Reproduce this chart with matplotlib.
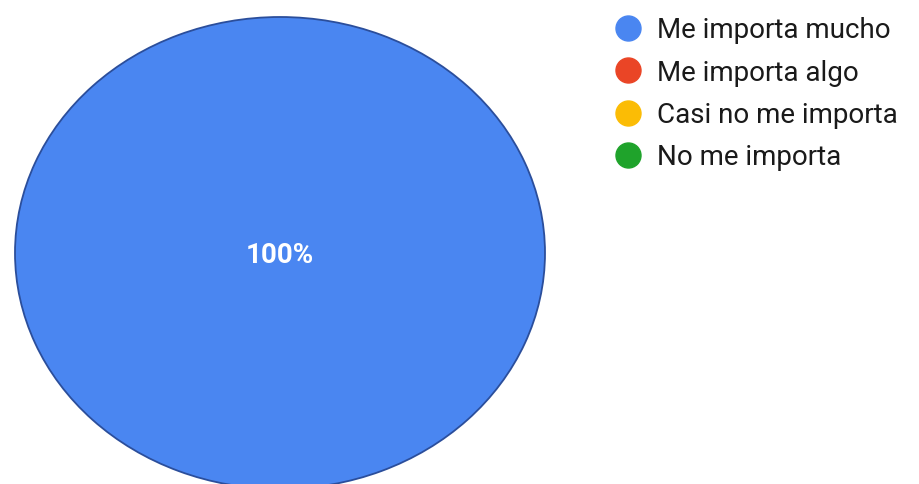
import matplotlib
matplotlib.use('Agg')
import matplotlib.pyplot as plt
from matplotlib.lines import Line2D

categories = ['Me importa mucho', 'Me importa algo', 'Casi no me importa', 'No me importa']
values = [100, 0, 0, 0]
colors = ['#4A86F1', '#EA4526', '#FBBC05', '#1FA32B']

W, H = 920, 484
fig = plt.figure(figsize=(W / 100, H / 100), dpi=100)
fig.patch.set_facecolor('white')

# pie axes (pixel box, top-based)
left, right, top, bottom = 15, 545, 17, 489
ax = fig.add_axes([left / W, 1 - bottom / H, (right - left) / W, (bottom - top) / H])
wedges, texts, autotexts = ax.pie(
    values, colors=colors, startangle=90, counterclock=False,
    autopct=lambda p: f'{p:.0f}%' if p > 0 else '', pctdistance=0.0,
    wedgeprops=dict(edgecolor='#2B4E9B', linewidth=1.3),
    textprops=dict(color='white', fontsize=20, fontweight='bold', family='Roboto'))
for w, v in zip(wedges, values):
    w.set_clip_on(False)
    if v == 0:
        w.set_linewidth(0)
for t in autotexts:
    t.set_verticalalignment('center_baseline')
ax.set_aspect('auto')
ax.set_xlim(-1, 1)
ax.set_ylim(-1, 1)
ax.axis('off')

# legend (manual)
marker_x = 628
text_x = 657
row0, step = 28.0, 42.3
for i, (cat, col) in enumerate(zip(categories, colors)):
    yc = row0 + i * step
    fig.add_artist(Line2D([marker_x / W], [1 - yc / H], transform=fig.transFigure,
                          marker='o', linestyle='', markersize=18,
                          markerfacecolor=col, markeredgecolor=col))
    fig.text(text_x / W, 1 - (yc + 10.5) / H, cat, fontsize=20, family='Roboto',
             color='#1a1a1a', va='baseline', ha='left')

fig.savefig('out.png', dpi=100, facecolor='white')
